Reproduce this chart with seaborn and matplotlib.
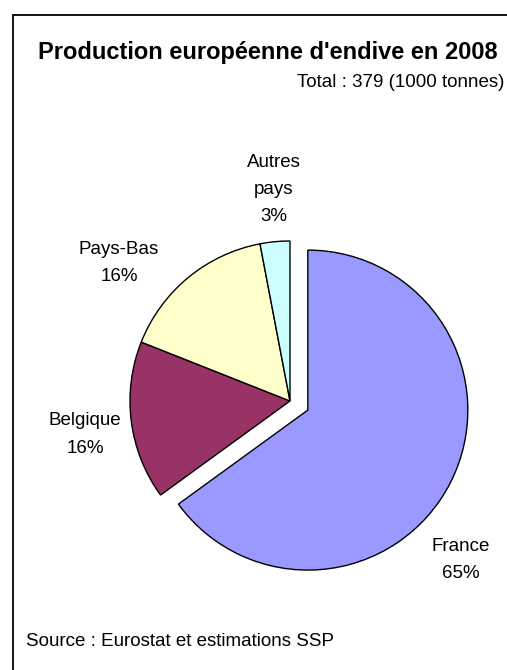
import matplotlib
matplotlib.use("Agg")
import matplotlib.pyplot as plt
import seaborn as sns

# Data
categories = ["France", "Belgique", "Pays-Bas", "Autres\npays"]
shares = [65, 16, 16, 3]
colors = ["#9999FF", "#993366", "#FFFFCC", "#CCFFFF"]
title = "Production européenne d'endive en 2008"
subtitle = "Total : 379 (1000 tonnes)"
source = "Source : Eurostat et estimations SSP"

sns.set_style("white")
plt.rcParams['font.family'] = ['Liberation Sans', 'DejaVu Sans']
plt.rcParams['text.color'] = 'black'

W, H = 507, 670
fig = plt.figure(figsize=(W / 100, H / 100), dpi=100)
fig.patch.set_facecolor("white")
ax = fig.add_axes([0, 0, 1, 1])
ax.set_xlim(0, W)
ax.set_ylim(0, H)
ax.set_aspect("equal")
ax.axis("off")

def Y(y):
    return H - y

radius = 160
ax.pie(shares, colors=colors, startangle=90, counterclock=False,
       center=(290, Y(401)), radius=radius, explode=[20, 0, 0, 0],
       wedgeprops=dict(edgecolor="black", linewidth=1.0), frame=False)
ax.set_xlim(0, W)
ax.set_ylim(0, H)
ax.axis("off")

# frame (left and top lines)
ax.plot([13, 13, W + 5], [Y(H + 5), Y(15), Y(15)], color="black", lw=1.3,
        clip_on=False, solid_joinstyle="miter")

fs = 13.5
ax.text(267.5, Y(59), title, ha="center", va="baseline", fontsize=17,
        fontweight="bold", color="black")
ax.text(504, Y(87), subtitle, ha="right", va="baseline", fontsize=fs,
        color="black")
ax.text(26, Y(646), source, ha="left", va="baseline", fontsize=fs,
        color="black")

def pct(v):
    return f"{v}%"

# slice labels (name lines + percentage)
label_pos = {
    "France": (461, [551, 578]),
    "Belgique": (85, [425, 453]),
    "Pays-Bas": (119, [254, 281]),
    "Autres\npays": (274, [167, 194, 221]),
}
for cat, val in zip(categories, shares):
    x, bases = label_pos[cat]
    lines = cat.split("\n") + [pct(val)]
    for line, b in zip(lines, bases):
        ax.text(x, Y(b), line, ha="center", va="baseline", fontsize=fs,
                color="black")

fig.savefig("out.png", dpi=100)
